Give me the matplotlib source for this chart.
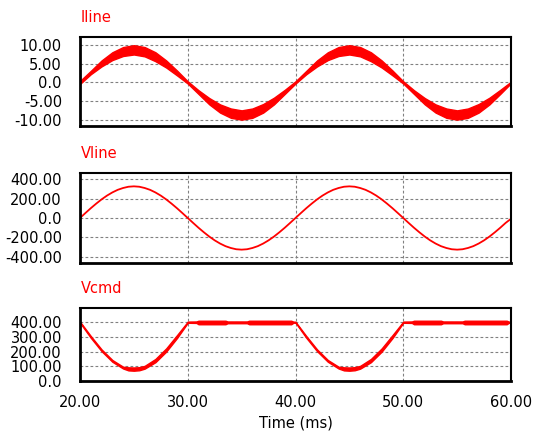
import matplotlib
matplotlib.use("Agg")
import matplotlib.pyplot as plt

# ---------------- data ----------------
time_ms = list(range(20, 61))

iline_upper = [0.4, 3.1, 5.9, 8.1, 9.5, 10.0, 9.5, 8.1, 5.9, 3.2, 0.3,
               -2.1, -4.2, -5.9, -7.0, -7.5, -7.0, -5.8, -4.1, -2.0, 0.3,
               3.1, 5.9, 8.1, 9.5, 10.0, 9.5, 8.1, 5.9, 3.2, 0.3,
               -2.1, -4.2, -5.9, -7.0, -7.5, -7.0, -5.8, -4.1, -2.0, 0.2]
iline_lower = [-0.4, 2.2, 4.3, 6.0, 7.1, 7.5, 7.0, 5.7, 4.0, 1.9, -0.3,
               -3.1, -5.9, -8.1, -9.5, -10.0, -9.5, -8.1, -5.9, -3.1, -0.3,
               2.2, 4.3, 6.0, 7.1, 7.5, 7.0, 5.7, 4.0, 1.9, -0.3,
               -3.1, -5.9, -8.1, -9.5, -10.0, -9.5, -8.1, -5.9, -3.1, -0.2]

vline_time_ms = [20 + 0.5 * k for k in range(81)]
vline = [0, 51, 101, 148, 192, 231, 264, 291, 310, 323, 327, 323, 310, 291,
         264, 231, 192, 148, 101, 51, 0,
         -51, -101, -148, -192, -231, -264, -291, -310, -323, -327, -323,
         -310, -291, -264, -231, -192, -148, -101, -51, 0,
         51, 101, 148, 192, 231, 264, 291, 310, 323, 327, 323, 310, 291,
         264, 231, 192, 148, 101, 51, 0,
         -51, -101, -148, -192, -231, -264, -291, -310, -323, -327, -323,
         -310, -291, -264, -231, -192, -148, -101, -51, -8]

vcmd_time_ms = [20, 21, 22, 23, 24, 24.5, 25, 25.5, 26, 27, 28, 29, 30,
                30.8, 31.0, 33.5, 33.7, 35.5, 35.7, 39.6, 39.8, 40,
                41, 42, 43, 44, 44.5, 45, 45.5, 46, 47, 48, 49, 50,
                50.8, 51.0, 53.5, 53.7, 55.5, 55.7, 59.6, 59.8, 60]
vcmd_upper = [404, 306, 215, 143, 97, 93, 92, 94, 103, 150, 222, 312, 404,
              405, 410, 410, 405, 405, 410, 410, 404, 403,
              306, 215, 143, 97, 93, 92, 94, 103, 150, 222, 312, 404,
              405, 410, 410, 405, 405, 410, 410, 404, 404]
vcmd_lower = [396, 294, 203, 131, 85, 72, 70, 73, 84, 128, 200, 292, 396,
              395, 386, 386, 393, 393, 386, 386, 396, 397,
              294, 203, 131, 85, 72, 70, 73, 84, 128, 200, 292, 396,
              395, 386, 386, 393, 393, 386, 386, 396, 396]

x_ticks = [20, 30, 40, 50, 60]
x_labels = ["20.00", "30.00", "40.00", "50.00", "60.00"]
iline_ticks = [-10, -5, 0, 5, 10]
iline_labels = ["-10.00", "-5.00", "0.0", "5.00", "10.00"]
vline_ticks = [-400, -200, 0, 200, 400]
vline_labels = ["-400.00", "-200.00", "0.0", "200.00", "400.00"]
vcmd_ticks = [0, 100, 200, 300, 400]
vcmd_labels = ["0.0", "100.00", "200.00", "300.00", "400.00"]

titles = ["Iline", "Vline", "Vcmd"]
xlabel = "Time (ms)"

# ---------------- figure ----------------
W, H = 545, 434
fig = plt.figure(figsize=(W / 100, H / 100), dpi=100)
FS = 10.5
RED = "#ff0000"


def rect(l, t, r, b):
    return [l / W, 1 - b / H, (r - l) / W, (b - t) / H]


ax1 = fig.add_axes(rect(80, 37, 511, 126))
ax2 = fig.add_axes(rect(80, 172.5, 511, 263))
ax3 = fig.add_axes(rect(80, 307.5, 511, 381))
axes = [ax1, ax2, ax3]

ax1.fill_between(time_ms, iline_lower, iline_upper, color=RED,
                 edgecolor=RED, linewidth=1.0)
ax2.plot(vline_time_ms, vline, color=RED, linewidth=1.3)
ax3.fill_between(vcmd_time_ms, vcmd_lower, vcmd_upper, color=RED,
                 edgecolor=RED, linewidth=1.0)

ax1.set_ylim(-11.7, 12.2)
ax2.set_ylim(-465, 470)
ax3.set_ylim(0, 500)

ax1.set_yticks(iline_ticks, iline_labels)
ax2.set_yticks(vline_ticks, vline_labels)
ax3.set_yticks(vcmd_ticks, vcmd_labels)

for ax in axes:
    ax.set_xlim(20, 60)
    ax.set_xticks(x_ticks)
    ax.set_axisbelow(True)
    ax.grid(True, color="#808080", linestyle=(0, (2.5, 2.0)), linewidth=0.8)
    ax.tick_params(length=0, labelsize=FS, pad=13)
    for s in ax.spines.values():
        s.set_color("black")
        s.set_linewidth(1.5)
    ax.spines["left"].set_linewidth(2.0)
    ax.spines["bottom"].set_linewidth(2.0)

ax1.set_xticklabels([])
ax2.set_xticklabels([])
ax3.set_xticklabels(x_labels)
ax3.tick_params(axis="x", pad=10)
ax3.set_xlabel(xlabel, fontsize=FS, labelpad=4)

title_baselines = [21.5, 157.5, 293]
for t, yb in zip(titles, title_baselines):
    fig.text(81 / W, 1 - yb / H, t, color=RED, fontsize=FS, va="baseline",
             ha="left")

fig.savefig("out.png", dpi=100)
